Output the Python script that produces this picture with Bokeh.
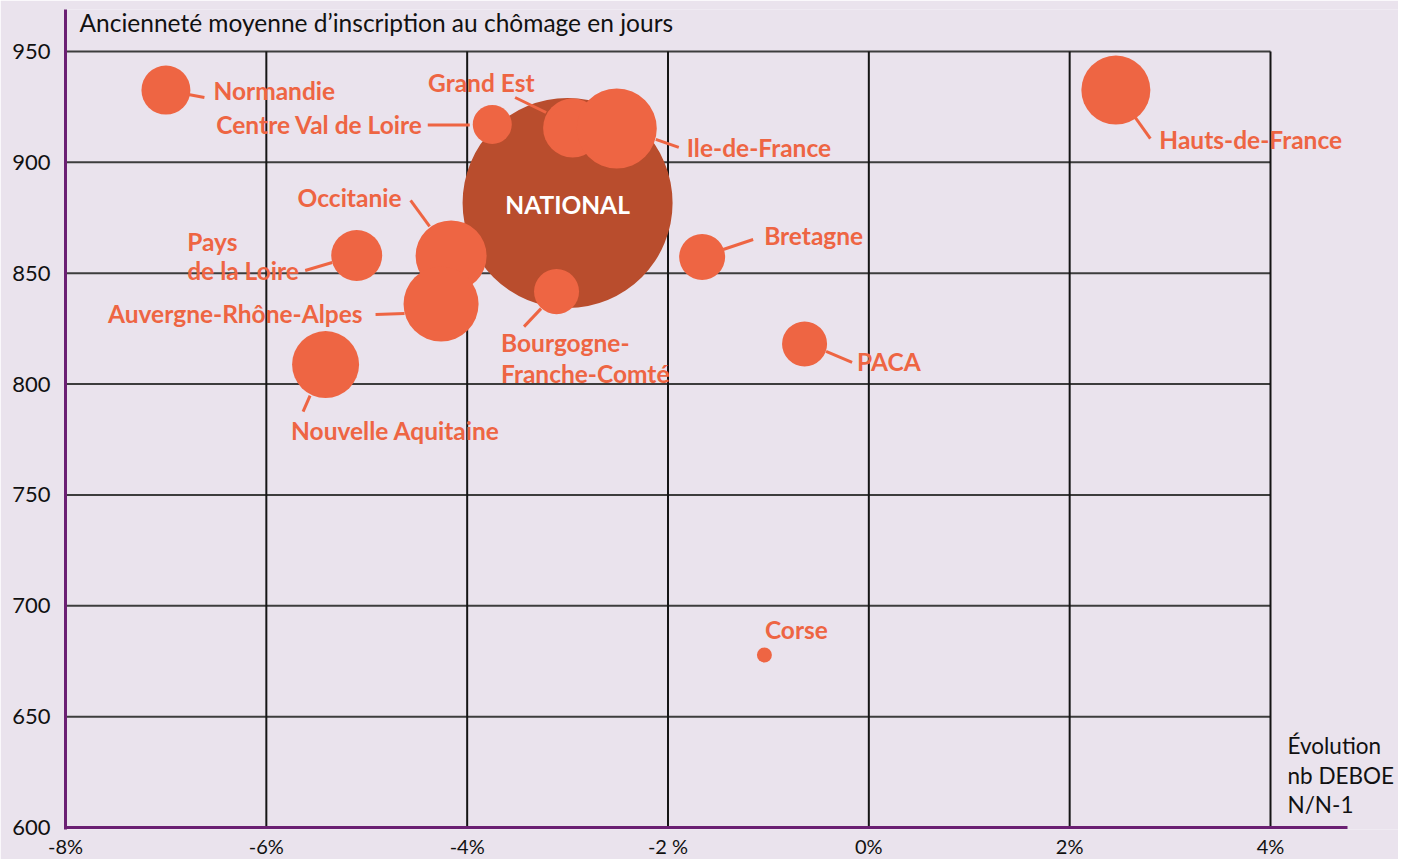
from bokeh.plotting import figure
from bokeh.models import FixedTicker, Label, ColumnDataSource
from bokeh.core.properties import value
from bokeh.embed import file_html
from bokeh.resources import INLINE
import math

# ---------------- data ----------------
regions = ["Normandie", "Centre Val de Loire", "Grand Est", "Ile-de-France",
           "Hauts-de-France", "Occitanie", "Pays de la Loire",
           "Auvergne-Rhône-Alpes", "Bourgogne-Franche-Comté", "Bretagne",
           "PACA", "Nouvelle Aquitaine", "Corse"]
evolution = [-7.00, -3.75, -2.95, -2.51, 2.46, -4.16, -5.10, -4.26, -3.11, -1.66, -0.64, -5.41, -1.04]
anciennete = [932.6, 917.1, 915.5, 915.3, 932.6, 857.8, 858.0, 836.1, 841.7, 857.3, 818.1, 808.8, 677.8]
effectif = [299, 190, 434, 798, 594, 629, 324, 702, 253, 264, 253, 560, 28]

national_label = "NATIONAL"
national_evolution = -3.00
national_anciennete = 881.7
national_effectif = 5500

x_ticks = [-8, -6, -4, -2, 0, 2, 4]
x_tick_labels = ["-8%", "-6%", "-4%", "-2 %", "0%", "2%", "4%"]
y_ticks = [600, 650, 700, 750, 800, 850, 900, 950]
y_tick_labels = ["600", "650", "700", "750", "800", "850", "900", "950"]

y_title = "Ancienneté moyenne d\u2019inscription au chômage en jours"
x_title = ["Évolution", "nb DEBOE", "N/N-1"]

# ---------------- layout / style ----------------
BG = "#EAE3ED"
ORANGE = "#EE6543"
DARK = "#B94D2D"
PURPLE = "#6B2073"
FONT = "Lato"

XPX = 1205 / 12.0          # px per % point
YPX = 776 / 350.0          # px per day
FW, FH = 1333, 820
XMIN = -8
XMAX = XMIN + FW / XPX
YMIN = 600 - 2 / YPX
YMAX = YMIN + FH / YPX
X_AXIS_END = -8 + 1282 / XPX
R_NAT = 105.0

# label layout: lines (text, dx_px, dy_px), align, leader (dx0, dy0, dx1, dy1) in screen px
label_layout = {
    "Normandie": ([("Normandie", 47.5, 0.5)], "left", (22.5, 4.5, 38.5, 7.5)),
    "Centre Val de Loire": ([("Centre Val de Loire", -69.5, 0.5)], "right", (-64.5, 0.5, -22.5, 0.5)),
    "Grand Est": ([("Grand Est", -144.5, -45.5)], "left", (-57.5, -30.5, -26.5, -15.5)),
    "Ile-de-France": ([("Ile-de-France", 70, 19)], "left", (39, 11, 62, 19)),
    "Hauts-de-France": ([("Hauts-de-France", 43.5, 49.5)], "left", (19.5, 27.5, 34.5, 48.5)),
    "Occitanie": ([("Occitanie", -153.5, -58.5)], "left", (-40.5, -55.5, -21.5, -29.5)),
    "Pays de la Loire": ([("Pays", -169.5, -14), ("de la Loire", -169.5, 15)], "left", (-51.5, 15, -24.5, 7)),
    "Auvergne-Rhône-Alpes": ([("Auvergne-Rhône-Alpes", -78.5, 9.5)], "right", (-65.5, 10.5, -36.5, 9.5)),
    "Bourgogne-Franche-Comté": ([("Bourgogne-", -55.5, 51), ("Franche-Comté", -55.5, 82)], "left", (-15.5, 17, -32.5, 35)),
    "Bretagne": ([("Bretagne", 62, -21.5)], "left", (21, -7.5, 51, -17.5)),
    "PACA": ([("PACA", 52.5, 17.5)], "left", (21.5, 7.5, 47.5, 18.5)),
    "Nouvelle Aquitaine": ([("Nouvelle Aquitaine", -34.5, 66)], "left", (-15.5, 31, -22.5, 47)),
    "Corse": ([("Corse", 0.5, -25.5)], "left", None),
}

def diam(v):
    return 2 * R_NAT * math.sqrt(v / national_effectif)

p = figure(frame_width=FW, frame_height=FH, x_range=(XMIN, XMAX), y_range=(YMIN, YMAX),
           output_backend="svg", toolbar_location=None,
           min_border_left=65, min_border_right=0, min_border_top=9, min_border_bottom=27)
p.background_fill_color = BG
p.border_fill_color = BG
p.outline_line_color = None
p.grid.visible = False

# grid lines (drawn manually, stopping at 4 %)
n_h = len(y_ticks) - 1
p.segment(x0=[XMIN] * n_h, y0=y_ticks[1:], x1=[x_ticks[-1]] * n_h, y1=y_ticks[1:],
          line_color="#3d3d3d", line_width=2)
n_v = len(x_ticks) - 1
p.segment(x0=x_ticks[1:], y0=[y_ticks[0]] * n_v, x1=x_ticks[1:], y1=[y_ticks[-1]] * n_v,
          line_color="#151515", line_width=2)

# x axis line (stops short of the right-hand title)
p.segment(x0=[XMIN], y0=[y_ticks[0]], x1=[X_AXIS_END], y1=[y_ticks[0]], line_color=PURPLE, line_width=3)

# national bubble
p.scatter(x=[national_evolution], y=[national_anciennete], size=[diam(national_effectif)],
          fill_color=DARK, line_color=None)

# regional bubbles
src = ColumnDataSource(dict(x=evolution, y=anciennete, size=[diam(v) for v in effectif], name=regions))
p.scatter(x="x", y="y", size="size", source=src, fill_color=ORANGE, line_color=None)

# labels and leader lines
tx, ty, tt, ta = [], [], [], []
lx0, ly0, lx1, ly1 = [], [], [], []
for name, x, y in zip(regions, evolution, anciennete):
    lines, align, leader = label_layout[name]
    for text, dx, dy in lines:
        tx.append(x + dx / XPX)
        ty.append(y - dy / YPX)
        tt.append(text)
        ta.append(align)
    if leader:
        lx0.append(x + leader[0] / XPX)
        ly0.append(y - leader[1] / YPX)
        lx1.append(x + leader[2] / XPX)
        ly1.append(y - leader[3] / YPX)

p.segment(x0=lx0, y0=ly0, x1=lx1, y1=ly1, line_color=ORANGE, line_width=3)
lsrc = ColumnDataSource(dict(x=tx, y=ty, text=tt, align=ta))
p.text(x="x", y="y", text="text", source=lsrc, text_align="align", text_baseline="middle",
       text_color=ORANGE, text_font=value(FONT), text_font_style="bold", text_font_size="24.5px")

p.text(x=[national_evolution], y=[national_anciennete - 1.5 / YPX], text=[national_label],
       text_align="center", text_baseline="middle", text_color="white",
       text_font=value(FONT), text_font_style="bold", text_font_size="24.5px")

# axis titles
p.add_layout(Label(x=XMIN + 14 / XPX, y=y_ticks[-1] + 29 / YPX, text=y_title,
                   text_font=FONT, text_font_size="24.5px", text_color="#111111",
                   text_baseline="middle", text_align="left"))
for i, t in enumerate(x_title):
    p.add_layout(Label(x=XMIN + 1222 / XPX, y=y_ticks[0] + (82 - 29.5 * i) / YPX, text=t,
                       text_font=FONT, text_font_size="22.5px", text_color="#111111",
                       text_baseline="middle", text_align="left"))

# axes
for ax, ticks, labels in ((p.xaxis, x_ticks, x_tick_labels), (p.yaxis, y_ticks, y_tick_labels)):
    ax.ticker = FixedTicker(ticks=ticks)
    ax.major_label_overrides = {t: l for t, l in zip(ticks, labels)}
    ax.axis_line_color = PURPLE
    ax.axis_line_width = 3
    ax.major_tick_line_color = None
    ax.minor_tick_line_color = None
    ax.major_label_text_font = FONT
    ax.major_label_text_color = "#111111"
p.xaxis.axis_line_color = None
p.xaxis.major_label_text_font_size = "20px"
p.xaxis.major_label_standoff = -2
p.yaxis.major_label_text_font_size = "22px"
p.yaxis.major_label_standoff = 9

open("out.html", "w").write(file_html(p, INLINE))
